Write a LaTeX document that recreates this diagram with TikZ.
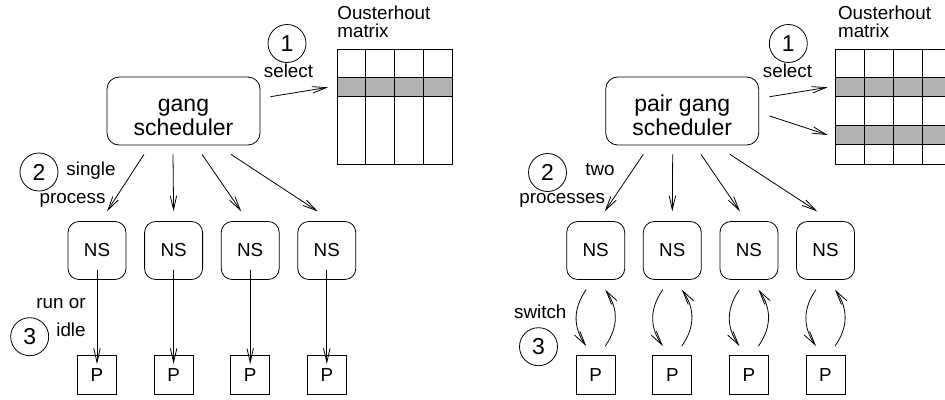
\documentclass[tikz,border=0pt]{standalone}
\usepackage{fontspec}
\setmainfont{Liberation Sans}
\usetikzlibrary{arrows.meta}
\newcommand{\smallf}{\fontsize{18.8}{20}\selectfont}
\newcommand{\bigf}{\fontsize{23}{24}\selectfont}
\begin{document}
\begin{tikzpicture}[x=1pt,y=-1pt,line width=0.8pt,
  schedbox/.style={draw, rounded corners=12pt, minimum width=153pt, minimum height=68pt, inner sep=0pt},
  nsbox/.style={draw, rounded corners=11pt, minimum size=58pt, inner sep=0pt, font=\smallf},
  pbox/.style={draw, minimum size=39pt, inner sep=0pt, font=\smallf},
  num/.style={draw, circle, minimum size=38pt, inner sep=0pt, font=\bigf},
  lbl/.style={inner sep=0pt, font=\smallf},
  biglbl/.style={inner sep=0pt, font=\bigf, anchor=base},
  arr/.style={-{Straight Barb[length=14pt,width=6.5pt]}},
  shadecell/.style={fill=black!30}]
\useasboundingbox (0,0) rectangle (945,399);
\clip (0,0) rectangle (945,399);

% ================= LEFT PANEL =================
\node[schedbox] (gs) at (183.5,111) {};
\node[biglbl] (gst1) at (183.5,111) {gang};
\node[biglbl] (gst2) at (183.5,135) {scheduler};

% matrix
\fill[shadecell] (337,77.7) rectangle (452,96.7);
\draw (337,49) rectangle (452,164);
\draw (337,77.7) -- (452,77.7) (337,96.7) -- (452,96.7);
\draw (365.75,49) -- (365.75,164) (394.5,49) -- (394.5,164) (423.25,49) -- (423.25,164);
\coordinate (m1in) at (328,87.3);
\node[lbl, anchor=base west] (ou1) at (337,19.3) {Ousterhout};
\node[lbl, anchor=base west] (ma1) at (337,37.7) {matrix};

\node[num] (c1) at (287,43.5) {1};
\node[lbl, anchor=base] (sel1) at (288.5,77.3) {select};
\draw[arr] ([shift={(10,-14.3)}]gs.east) -- (m1in);

\node[num] (c2) at (39,172) {2};
\node[lbl, anchor=base] (single) at (91,175) {single};
\node[lbl, anchor=base] (process) at (72.5,203.3) {process};

\foreach \i/\x in {1/97,2/173.6,3/250.2,4/326.8}{
  \node[nsbox] (ns\i) at (\x,250.5) {NS};
  \node[pbox] (p\i) at (\x,375) {P};
  \draw[arr] ([yshift=9.7]ns\i.south) -- ([yshift=-9]p\i.north);
}
\draw[arr] ([shift={(-39.5,9)}]gs.south) -- ([shift={(10,-9.7)}]ns1.north);
\draw[arr] ([shift={(-10.5,9)}]gs.south) -- ([shift={(0,-9.7)}]ns2.north);
\draw[arr] ([shift={(18.5,9)}]gs.south) -- ([shift={(-9,-9.7)}]ns3.north);
\draw[arr] ([shift={(47.5,9)}]gs.south) -- ([shift={(-9,-9.7)}]ns4.north);

\node[lbl, anchor=base east] (runor) at (86,308.3) {run or};
\node[lbl, anchor=base east] (idle) at (86,336.7) {idle};
\node[num] (c3) at (29.7,336.7) {3};

% ================= RIGHT PANEL =================
\begin{scope}[xshift=498.7pt]
\node[schedbox] (pgs) at (183.5,111) {};
\node[biglbl] (pgst1) at (183.5,111) {pair gang};
\node[biglbl] (pgst2) at (183.5,135) {scheduler};

\fill[shadecell] (337,77.7) rectangle (460,96.7);
\fill[shadecell] (337,125.7) rectangle (460,144.3);
\draw (460,49) -- (337,49) -- (337,164) -- (460,164);
\draw (337,77.7) -- (460,77.7) (337,96.7) -- (460,96.7)
      (337,125.7) -- (460,125.7) (337,144.3) -- (460,144.3);
\draw (365.75,49) -- (365.75,164) (394.5,49) -- (394.5,164) (423.25,49) -- (423.25,164) (452,49) -- (452,164);
\coordinate (m2in) at (329,87.3);
\coordinate (m2in2) at (329,135);
\node[lbl, anchor=base west] (ou2) at (339,19.3) {Ousterhout};
\node[lbl, anchor=base west] (ma2) at (339,37.7) {matrix};

\node[num] (pc1) at (289.6,43.5) {1};
\node[lbl, anchor=base] (sel2) at (288.8,77.3) {select};
\draw[arr] ([shift={(10.6,-14.3)}]pgs.east) -- (m2in);
\draw[arr] ([shift={(10.6,5)}]pgs.east) -- (m2in2);

\node[num] (pc2) at (48.8,172.5) {2};
\node[lbl, anchor=base] (two) at (101.3,175) {two};
\node[lbl, anchor=base] (processes) at (63.5,203.3) {processes};

\foreach \i/\x in {1/97,2/173.6,3/250.2,4/326.8}{
  \node[nsbox] (pns\i) at (\x,250.5) {NS};
  \node[pbox] (pp\i) at (\x,375) {P};
  \draw[arr] ([shift={(-9.5,9.7)}]pns\i.south) .. controls +(-13.3,19) and +(-13.3,-19) .. ([shift={(-9.5,-9)}]pp\i.north);
  \draw[arr] ([shift={(9.5,-9)}]pp\i.north) .. controls +(13.3,-19) and +(13.3,19) .. ([shift={(9.5,9.7)}]pns\i.south);
}
\draw[arr] ([shift={(-38.9,9)}]pgs.south) -- ([shift={(9,-9.7)}]pns1.north);
\draw[arr] ([shift={(-9.5,9)}]pgs.south) -- ([shift={(0,-9.7)}]pns2.north);
\draw[arr] ([shift={(18.8,9)}]pgs.south) -- ([shift={(-9,-9.7)}]pns3.north);
\draw[arr] ([shift={(47.8,9)}]pgs.south) -- ([shift={(-8.2,-9.7)}]pns4.north);

\node[lbl, anchor=base] (switch) at (41.6,318.3) {switch};
\node[num] (pc3) at (39.8,346.7) {3};
\end{scope}
\end{tikzpicture}
\end{document}
